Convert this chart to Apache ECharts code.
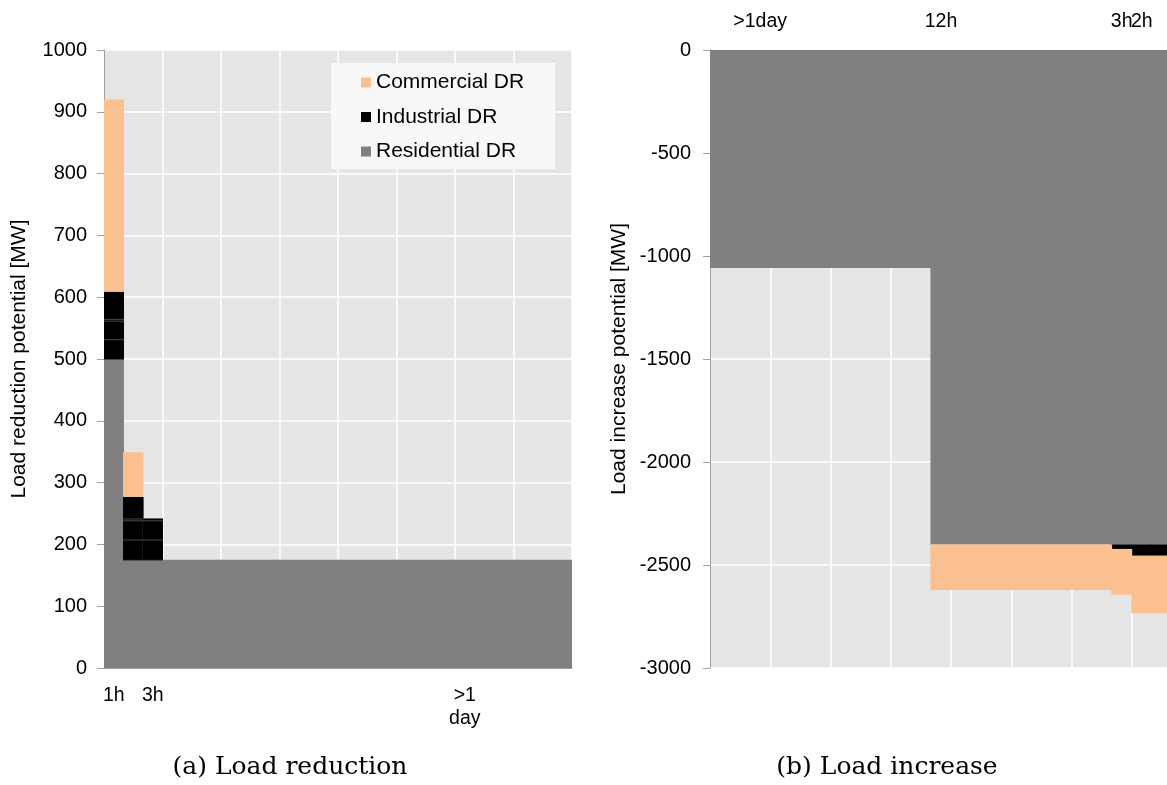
<!DOCTYPE html>
<html>
<head>
<meta charset="utf-8">
<script src="https://cdn.jsdelivr.net/npm/echarts@6/dist/echarts.min.js"></script>
<style>html,body{margin:0;padding:0;background:#fff;overflow:hidden}#c{width:1200px;height:785px}</style>
</head>
<body>
<div id="c"></div>
<script>
// ---------- (a) Load reduction ----------
var leftCategories = ['1h','','3h','','','','','','','','','','','','','','','','>1\nday','','','','',''];
var leftResidential = [500,175,175,175,175,175,175,175,175,175,175,175,175,175,175,175,175,175,175,175,175,175,175,175];
var leftIndustrialA = [32,33,33,null,null,null,null,null,null,null,null,null,null,null,null,null,null,null,null,null,null,null,null,null];
var leftIndustrialB = [30,31,31,null,null,null,null,null,null,null,null,null,null,null,null,null,null,null,null,null,null,null,null,null];
var leftIndustrialC = [3,3,3,null,null,null,null,null,null,null,null,null,null,null,null,null,null,null,null,null,null,null,null,null];
var leftIndustrialD = [44,35,null,null,null,null,null,null,null,null,null,null,null,null,null,null,null,null,null,null,null,null,null,null];
var leftCommercial = [311,72,null,null,null,null,null,null,null,null,null,null,null,null,null,null,null,null,null,null,null,null,null,null];
var leftTicks = {min:0, max:1000, interval:100};

// ---------- (b) Load increase ----------
var rightCategories = ['','','>1day','','','','','','','','','12h','','','','','','','','','3h','2h','',''];
var rightResidential = [-1058,-1058,-1058,-1058,-1058,-1058,-1058,-1058,-1058,-1058,-1058,-2400,-2400,-2400,-2400,-2400,-2400,-2400,-2400,-2400,-2400,-2400,-2400,-2400];
var rightIndustrial = [null,null,null,null,null,null,null,null,null,null,null,null,null,null,null,null,null,null,null,null,-22,-55,-55,-55];
var rightCommercial = [null,null,null,null,null,null,null,null,null,null,null,-221,-221,-221,-221,-221,-221,-221,-221,-221,-222,-279,-279,-279];
var rightTicks = {min:-3000, max:0, interval:500};

var seriesNames = ['Commercial DR','Industrial DR','Residential DR'];
var colors = {res:'#808080', ind:'#000000', com:'#FAC090'};

var FONT = 'Liberation Sans';
var chart = echarts.init(document.getElementById('c'), null, {renderer:'canvas'});

function catAxis(gridIndex, data, position, margin) {
  return {
    type:'category', gridIndex:gridIndex, data:data, position:position,
    boundaryGap:true,
    axisLine:{show:true, onZero:false, lineStyle:{color:'#a0a0a0', width:1}},
    axisTick:{show:false},
    axisLabel:{interval:0, color:'#000', fontFamily:FONT, fontSize:19.5, margin:margin, lineHeight:23},
    splitLine:{show:true, interval:function(i){return i>0 && i%3===0;}, lineStyle:{color:'#ffffff', width:1.5}}
  };
}
function valAxis(gridIndex, t, name, nameGap, margin) {
  return {
    type:'value', gridIndex:gridIndex, min:t.min, max:t.max, interval:t.interval,
    name:name, nameLocation:'middle', nameGap:nameGap,
    nameTextStyle:{color:'#000', fontFamily:FONT, fontSize:21},
    axisLine:{show:true, lineStyle:{color:'#a0a0a0', width:1}},
    axisTick:{show:true, length:7, inside:false, lineStyle:{color:'#a0a0a0'}},
    axisLabel:{color:'#000', fontFamily:FONT, fontSize:20, margin:margin, formatter:function(v){return String(v);}},
    splitLine:{show:true, lineStyle:{color:'#ffffff', width:1.5}}
  };
}
function bar(name, data, axis, stack, color, width, sep) {
  var s = {
    type:'bar', name:name, data:data, xAxisIndex:axis, yAxisIndex:axis, stack:stack,
    barWidth:width,
    itemStyle:{color:color, borderWidth:0},
    emphasis:{disabled:true}, animation:false
  };
  if (sep) { s.itemStyle.shadowColor = sep; s.itemStyle.shadowOffsetY = 1; s.itemStyle.shadowBlur = 0; }
  return s;
}
var LW = 20.4, RW = 21, SEP = '#4a4a4a';

chart.setOption({
  animation:false,
  color:[colors.com, colors.ind, colors.res],
  grid:[
    {left:104, top:50, width:468, height:618, show:true, backgroundColor:'#e5e5e5', borderWidth:0},
    {left:710, top:50, width:482, height:618, show:true, backgroundColor:'#e5e5e5', borderWidth:0}
  ],
  xAxis:[catAxis(0, leftCategories, 'bottom', 16), catAxis(1, rightCategories, 'top', 17)],
  yAxis:[
    valAxis(0, leftTicks, 'Load reduction potential [MW]', 74, 17),
    valAxis(1, rightTicks, 'Load increase potential [MW]', 80, 19)
  ],
  legend:{
    data:seriesNames, orient:'vertical', left:331, top:63,
    itemWidth:10, itemHeight:10, itemGap:13.5, icon:'rect',
    padding:[9,31,7,30], backgroundColor:'#f8f8f8',
    textStyle:{color:'#000', fontFamily:FONT, fontSize:21},
    selectedMode:false
  },
  series:[
    bar('Residential DR', leftResidential, 0, 'L', colors.res, LW),
    bar('Industrial DR', leftIndustrialA, 0, 'L', colors.ind, LW, SEP),
    bar('Industrial DR', leftIndustrialB, 0, 'L', colors.ind, LW, SEP),
    bar('Industrial DR', leftIndustrialC, 0, 'L', colors.ind, LW, SEP),
    bar('Industrial DR', leftIndustrialD, 0, 'L', colors.ind, LW, SEP),
    bar('Commercial DR', leftCommercial, 0, 'L', colors.com, LW),
    bar('Residential DR', rightResidential, 1, 'R', colors.res, RW),
    bar('Industrial DR', rightIndustrial, 1, 'R', colors.ind, RW),
    bar('Commercial DR', rightCommercial, 1, 'R', colors.com, RW)
  ],
  graphic:[
    {type:'text', style:{text:'(a) Load reduction', x:290, y:767, textAlign:'center', textVerticalAlign:'middle', fill:'#000', font:'25px "DejaVu Serif"'}},
    {type:'text', style:{text:'(b) Load increase', x:887, y:767, textAlign:'center', textVerticalAlign:'middle', fill:'#000', font:'25px "DejaVu Serif"'}}
  ]
});
</script>
</body>
</html>
